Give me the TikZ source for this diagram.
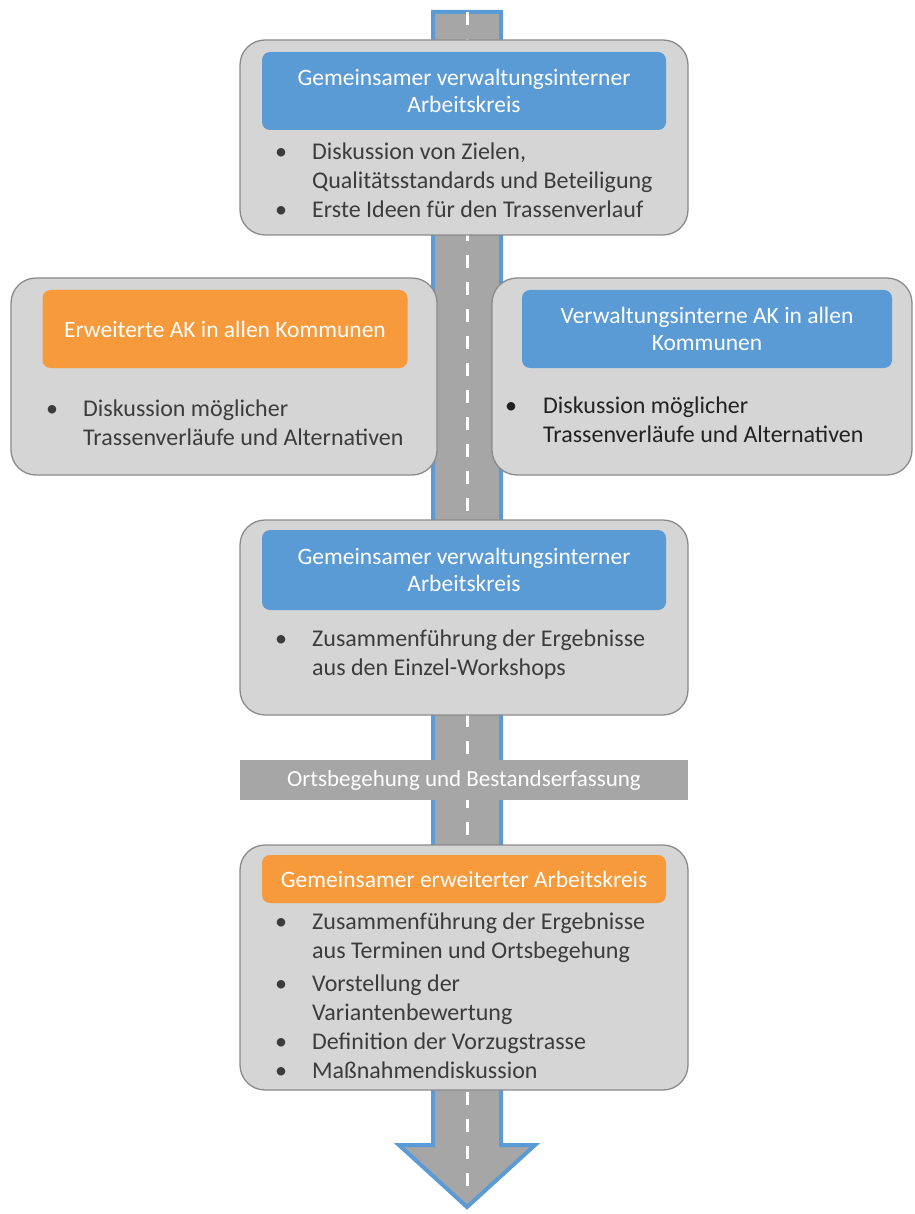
\documentclass[tikz,border=0pt]{standalone}
\usepackage{fontspec}
\setmainfont{Carlito}
\definecolor{hblue}{HTML}{5B9BD5}
\definecolor{horange}{HTML}{F79A3B}
\definecolor{boxgray}{HTML}{D5D5D5}
\definecolor{boxline}{HTML}{8A8A8A}
\definecolor{roadgray}{HTML}{A6A6A6}
\definecolor{txtgray}{HTML}{3C3C3C}
\definecolor{txtdark}{HTML}{222222}
\begin{document}
\begin{tikzpicture}[x=1pt,y=-1pt,
  panel/.style={draw=boxline, line width=1.3pt, fill=boxgray, rounded corners=25pt, inner sep=0pt},
  headbox/.style={rounded corners=8pt, inner sep=0pt, text=white, align=center, font=\fontsize{23.5}{27.5}\selectfont},
  headblue/.style={headbox, fill=hblue},
  headorange/.style={headbox, fill=horange},
  bullets/.style={inner sep=0pt, anchor=west, text=txtgray, align=left, font=\fontsize{24}{29}\selectfont},
  bandbox/.style={fill=roadgray, inner sep=0pt, text=white, font=\fontsize{23}{26}\selectfont},
  roadline/.style={fill=roadgray, draw=hblue, line width=4pt, line join=miter},
  centerline/.style={draw=white, line width=3pt, dash pattern=on 13pt off 14pt}
]
\useasboundingbox (0,0) rectangle (914,1214);

% road
\coordinate (rtop) at (467,12);
\coordinate (rtip) at (467,1207);
\draw[roadline] (433,12) -- (501,12) -- (501,1145) -- (535,1145) -- (rtip) -- (399,1145) -- (433,1145) -- cycle;
\draw[centerline] (rtop) -- (467,1200);

% top box
\node[panel, minimum width=448pt, minimum height=195pt] (top) at (464,137.5) {};
\node[headblue, minimum width=404pt, minimum height=78pt] (toph) at (464,91) {Gemeinsamer verwaltungsinterner\\Arbeitskreis};
\node[bullets] (topb) at (275,183) {\begin{tabular}{@{}p{37pt}@{}l@{}}
\textbullet & Diskussion von Zielen,\\
 & Qualitätsstandards und Beteiligung\\
\textbullet & Erste Ideen für den Trassenverlauf
\end{tabular}};

% left box
\node[panel, minimum width=426pt, minimum height=197pt] (left) at (224,376.5) {};
\node[headorange, minimum width=365pt, minimum height=78pt] (lefth) at (225,329) {Erweiterte AK in allen Kommunen};
\node[bullets] (leftb) at (46,425) {\begin{tabular}{@{}p{37pt}@{}l@{}}
\textbullet & Diskussion möglicher\\
 & Trassenverläufe und Alternativen
\end{tabular}};

% right box
\node[panel, minimum width=420pt, minimum height=197pt] (right) at (702,376.5) {};
\node[headblue, minimum width=370pt, minimum height=78pt] (righth) at (707,329) {Verwaltungsinterne AK in allen\\Kommunen};
\node[bullets, text=txtdark] (rightb) at (505,422) {\begin{tabular}{@{}p{38pt}@{}l@{}}
\textbullet & Diskussion möglicher\\
 & Trassenverläufe und Alternativen
\end{tabular}};

% middle box
\node[panel, minimum width=448pt, minimum height=195pt] (mid) at (464,617.5) {};
\node[headblue, minimum width=404pt, minimum height=80pt] (midh) at (464,570) {Gemeinsamer verwaltungsinterner\\Arbeitskreis};
\node[bullets] (midb) at (275,655) {\begin{tabular}{@{}p{37pt}@{}l@{}}
\textbullet & Zusammenführung der Ergebnisse\\
 & aus den Einzel-Workshops
\end{tabular}};

% band
\node[bandbox, minimum width=448pt, minimum height=40pt] (band) at (464,780) {Ortsbegehung und Bestandserfassung};

% bottom box
\node[panel, minimum width=448pt, minimum height=245pt] (bot) at (464,967.5) {};
\node[headorange, minimum width=404pt, minimum height=48pt] (both) at (464,879) {Gemeinsamer erweiterter Arbeitskreis};
\node[bullets] (botb) at (275,998) {\begin{tabular}{@{}p{37pt}@{}l@{}}
\textbullet & Zusammenführung der Ergebnisse\\
 & aus Terminen und Ortsbegehung\\[4pt]
\textbullet & Vorstellung der\\
 & Variantenbewertung\\
\textbullet & Definition der Vorzugstrasse\\
\textbullet & Maßnahmendiskussion
\end{tabular}};
\end{tikzpicture}
\end{document}
